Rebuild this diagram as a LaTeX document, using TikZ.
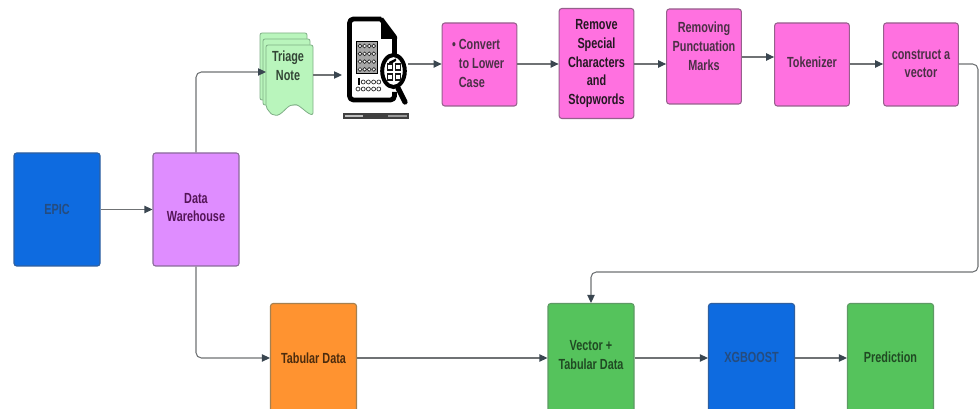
\documentclass[tikz,border=0pt]{standalone}
\usepackage{fontspec}
\setmainfont[FakeStretch=0.74]{Liberation Sans Bold}
\usetikzlibrary{arrows.meta,calc}
\definecolor{epicblue}{HTML}{0E6BE0}
\definecolor{epicedge}{HTML}{2F5F9F}
\definecolor{lilac}{HTML}{DF8DFF}
\definecolor{lilacedge}{HTML}{8A6A9A}
\definecolor{pinkf}{HTML}{FF71E0}
\definecolor{pinkedge}{HTML}{96608C}
\definecolor{orangef}{HTML}{FF9330}
\definecolor{orangeedge}{HTML}{A58050}
\definecolor{greenf}{HTML}{55C35C}
\definecolor{greenedge}{HTML}{5E9A64}
\definecolor{mint}{HTML}{B9F5BC}
\definecolor{mintedge}{HTML}{7FAF86}
\definecolor{linec}{HTML}{6F7274}
\definecolor{tipc}{HTML}{3A4650}
\colorlet{pinktext}{black!50!pinkedge}
\colorlet{dwtext}{black!45!violet!80!lilacedge}
\newcommand{\boxfont}{\fontsize{11pt}{14.1pt}\selectfont}
\tikzset{
  x=0.75pt,y=-0.75pt,
  boxnode/.style={rectangle,rounded corners=2pt,line width=0.8pt,inner sep=0pt,
    align=center,font=\boxfont},
  pinkbox/.style={boxnode,draw=pinkedge,fill=pinkf,text=pinktext,minimum width=56pt},
  tallbox/.style={boxnode,minimum width=64.5pt,minimum height=84.75pt},
  bottombox/.style={boxnode,minimum width=64.5pt,minimum height=90pt,anchor=north},
  boxtext/.style={font=\boxfont,align=center,inner sep=0pt},
  conn/.style={draw=linec,line width=0.8pt,-{Triangle[length=6pt,width=5.5pt,color=tipc]}},
  connround/.style={conn,rounded corners=4pt},
  notesheet/.style={draw=mintedge,fill=mint,line width=0.6pt,rounded corners=1.5pt},
  iconline/.style={draw=black,line width=3.6pt,line join=round,fill=none},
  dotc/.style={draw=black!85,line width=0.5pt,fill=white},
}
\begin{document}
\begin{tikzpicture}
\useasboundingbox (0,0) rectangle (979,409);
\clip (0,0) rectangle (979,409);
\fill[white] (0,0) rectangle (979,409);

% top row of boxes
\node[pinkbox,minimum height=62.25pt,
  label={[boxtext,align=left,text=pinktext,xshift=1.5pt,yshift=0.75pt]center:\llap{\textbullet\ }Convert\\to Lower\\Case}] (lower) at (479.5,64.5) {};
\node[pinkbox,minimum height=82.5pt,text=black!75!pinkedge] (special) at (596.5,63.5) {Remove\\Special\\Characters\\and\\Stopwords};
\node[pinkbox,minimum height=71.25pt,
  label={[boxtext,text=pinktext,yshift=7.5pt]center:Removing\\Punctuation\\Marks}] (punct) at (704,56.5) {};
\node[pinkbox,minimum height=62.25pt,
  label={[boxtext,text=pinktext,yshift=1.5pt]center:Tokenizer}] (token) at (812,64.5) {};
\node[pinkbox,minimum height=62.25pt,
  label={[boxtext,text=pinktext,yshift=0.6pt]center:construct a\\vector}] (vec) at (921,64.5) {};

% left boxes
\node[tallbox,draw=epicedge,fill=epicblue,text=epicedge!80!black] (epic) at (57,209.5) {EPIC};
\node[tallbox,draw=lilacedge,fill=lilac,
  label={[boxtext,text=dwtext,yshift=1.5pt]center:Data\\Warehouse}] (dw) at (196,209.5) {};

% bottom boxes
\node[bottombox,draw=orangeedge,fill=orangef] (tab) at (313.5,303) {};
\node[boxtext,text=black!70!orangef] (tabT) at (313.5,358) {Tabular Data};
\node[bottombox,draw=greenedge,fill=greenf] (vt) at (591,303) {};
\node[boxtext,text=black!62!greenf] (vtT) at (591,355) {Vector +\\Tabular Data};
\node[bottombox,draw=epicedge,fill=epicblue] (xgb) at (751.5,303) {};
\node[boxtext,text=epicedge!80!black] (xgbT) at (751.5,357) {XGBOOST};
\node[bottombox,draw=greenedge,fill=greenf] (pred) at (890.5,303) {};
\node[boxtext,text=black!62!greenf] (predT) at (890.5,357) {Prediction};

% triage note sheets
\path[notesheet] (260,33) -- (307,33) -- (307,100) -- (260,100) -- cycle;
\path[notesheet] (263,39) -- (310,39) -- (310,105) -- (263,105) -- cycle;
\path[notesheet] (266,45) -- (313,45) -- (313,115) .. controls (306,113) and (299,104) .. (293,105)
  .. controls (287,106) and (281,116) .. (274,115) .. controls (271,114) and (268,110) .. (266,107) -- cycle;
\node[boxtext,text=black!60!mintedge] (triage) at (288,66) {Triage\\Note};
\coordinate (triageW) at (266,72);
\coordinate (triageE) at (313,75);

% document icon
\coordinate (iconW) at (342,75);
\coordinate (iconE) at (408,64);
\path[iconline,rounded corners=3pt]
  (381,19) -- (349.5,19) -- (349.5,100) -- (394.5,100) -- (394.5,92);
\path[iconline] (394.5,54) -- (394.5,37) -- (381,19);
\fill[black] (381,17) -- (397,37) -- (397,39) -- (381,39) -- cycle;
\path[draw=black,line width=1.4pt,fill=black!35] (356.5,41.5) rectangle (377.5,73.5);
\foreach \r in {0,1,2,3}{\foreach \c in {0,1,2,3}{
  \path[dotc] ({360+\c*4.6},{46+\r*7.8}) circle (1.9);}}
\foreach \c in {1,2,3,4}{\path[dotc] ({358+\c*5.2},82) circle (2);}
\foreach \c in {0,1,2,3,4}{\path[dotc] ({358+\c*5.2},89) circle (2);}
\fill[black] (358.3,78) rectangle (359.8,85);
\path[draw=black,fill=white,line width=3pt] (393.5,71) ellipse [x radius=11.3,y radius=16];
\path[draw=black,line width=4pt,line cap=round] (398,88) -- (405,102);
\fill[black] (389,62) -- (396,58.5) -- (396,61) -- (389,65) -- cycle;
\foreach \a/\b in {390/67,398/67,390/77,398/77}{
  \path[draw=black!90,line width=0.8pt,fill=white] ({\a-2.5},{\b-3}) rectangle ({\a+2.5},{\b+3});}
\fill[black!75] (343,113) rectangle (409,119);
\fill[white!75!black] (345,115) rectangle (363,117);
\fill[white!60!black] (388,115.3) rectangle (407,116.7);

% connectors
\draw[conn] (epic) -- (dw);
\draw[connround] (dw.north) |- (triageW);
\draw[connround] (dw.south) |- (tab.west |- 0,358);
\draw[conn] (triageE) -- (iconW);
\draw[conn] (iconE) -- (lower.west |- iconE);
\draw[conn] (lower.east |- 0,64) -- (special.west |- 0,64);
\draw[conn] (special.east |- 0,64) -- (punct.west |- 0,64);
\draw[conn] (punct.east |- 0,57) -- (token.west |- 0,57);
\draw[conn] (token.east |- 0,64) -- (vec.west |- 0,64);
\coordinate (turnA) at (978,64);
\coordinate (turnB) at (978,272);
\draw[connround] (vec.east |- 0,64) -- (turnA) -- (turnB) -| (vt.north);
\draw[conn] (tab.east |- 0,358) -- (vt.west |- 0,358);
\draw[conn] (vt.east |- 0,358) -- (xgb.west |- 0,358);
\draw[conn] (xgb.east |- 0,358) -- (pred.west |- 0,358);
\end{tikzpicture}
\end{document}
